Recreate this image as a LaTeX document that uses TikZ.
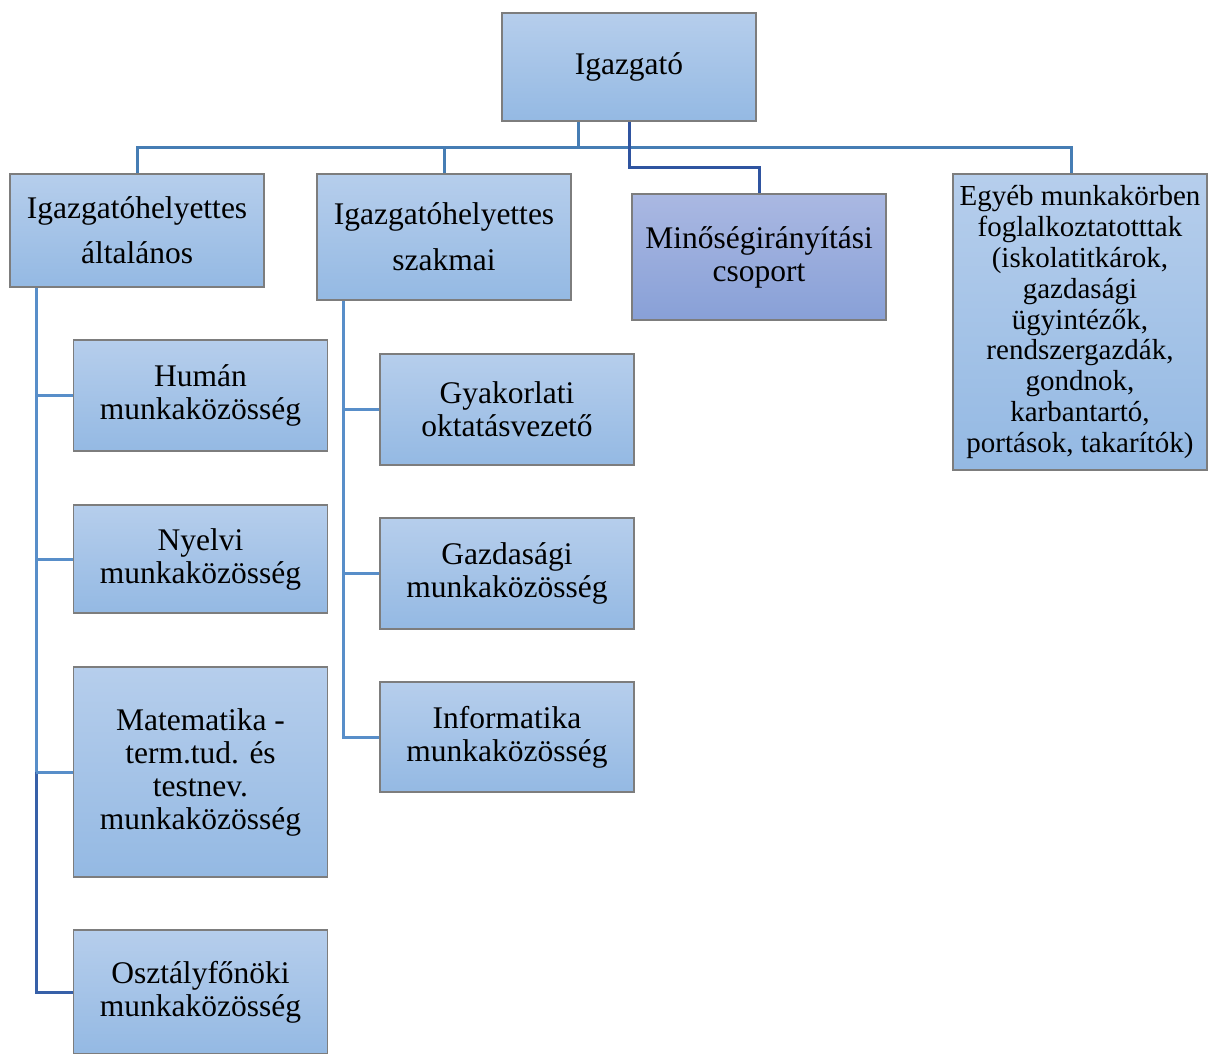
\documentclass[tikz,border=0pt]{standalone}
\usepackage{fontspec}
\setmainfont{Liberation Serif}
\usepackage{tikz}
\definecolor{boxtop}{RGB}{182,206,236}
\definecolor{boxbot}{RGB}{148,185,227}
\definecolor{mintop}{RGB}{170,184,226}
\definecolor{minbot}{RGB}{136,160,215}
\definecolor{busline}{RGB}{70,125,180}
\definecolor{sideline}{RGB}{88,142,201}
\definecolor{darkline}{RGB}{47,84,160}
\definecolor{edgegray}{RGB}{125,125,125}

\begin{document}
\begin{tikzpicture}[x=1pt,y=-1pt,
    box/.style={draw=edgegray, line width=1.5pt, top color=boxtop, bottom color=boxbot, minimum width=254pt, inner sep=0pt, align=center, font=\fontsize{31.5}{33}\selectfont},
    minbox/.style={box, top color=mintop, bottom color=minbot},
    bus/.style={draw=busline, line width=3pt},
    side/.style={draw=sideline, line width=3pt},
    dark/.style={draw=darkline, line width=3pt}]
    \useasboundingbox (0,0) rectangle (1208,1053);
    \clip (0,0) rectangle (1208,1053);

    \node[box, minimum height=108pt] (igaz) at (629,67) {Igazgató};
    \node[box, minimum height=113pt, font=\fontsize{31.5}{45}\selectfont] (iha) at (137,230.5) {Igazgatóhelyettes\\általános};
    \node[box, minimum height=126pt, font=\fontsize{31.5}{46}\selectfont] (ihsz) at (444,237) {Igazgatóhelyettes\\szakmai};
    \node[minbox, minimum height=126pt] (minoseg) at (759,257) {Minőségirányítási\\csoport};
    \node[box, minimum height=296pt, font=\fontsize{29}{30.8}\selectfont] (egyeb) at (1080,322) {Egyéb munkakörben\\foglalkoztatotttak\\(iskolatitkárok,\\gazdasági\\ügyintézők,\\rendszergazdák,\\gondnok,\\karbantartó,\\portások, takarítók)};

    \node[box, minimum height=111pt] (human) at (200.5,395.5) {Humán\\munkaközösség};
    \node[box, minimum height=108pt] (nyelvi) at (200.5,559) {Nyelvi\\munkaközösség};
    \node[box, minimum height=210pt] (matek) at (200.5,772) {Matematika -\\term.tud. és\\testnev.\\munkaközösség};
    \node[box, minimum height=124pt] (ofo) at (200.5,992) {Osztályfőnöki\\munkaközösség};

    \node[box, minimum height=111pt] (gyak) at (507,409.5) {Gyakorlati\\oktatásvezető};
    \node[box, minimum height=111pt] (gazd) at (507,573.5) {Gazdasági\\munkaközösség};
    \node[box, minimum height=110pt] (info) at (507,737) {Informatika\\munkaközösség};

    % top level
    \coordinate (b) at ([xshift=-51pt, yshift=-26pt]igaz.south);
    \draw[bus] ([xshift=-51pt]igaz.south) -- (b);
    \draw[bus] (iha.north) |- (b) -| ([xshift=-9pt]egyeb.north);
    \draw[bus] (ihsz.north) -- (ihsz.north |- b);
    \draw[dark] (igaz.south) -- ++(0,46) -| (minoseg.north);

    % altalanos
    \coordinate (lv) at ([xshift=-101pt]iha.south);
    \draw[side] (lv) -- (lv |- matek.west);
    \draw[dark, draw=darkline!80!sideline] (lv |- matek.west) |- (ofo.west);
    \foreach \n in {human,nyelvi,matek}
        \draw[side] (\n.west) -- (\n.west -| lv);

    % szakmai
    \coordinate (rv) at ([xshift=-101pt]ihsz.south);
    \draw[side] (rv) |- (info.west);
    \foreach \n in {gyak,gazd}
        \draw[side] (\n.west) -- (\n.west -| rv);
\end{tikzpicture}
\end{document}
